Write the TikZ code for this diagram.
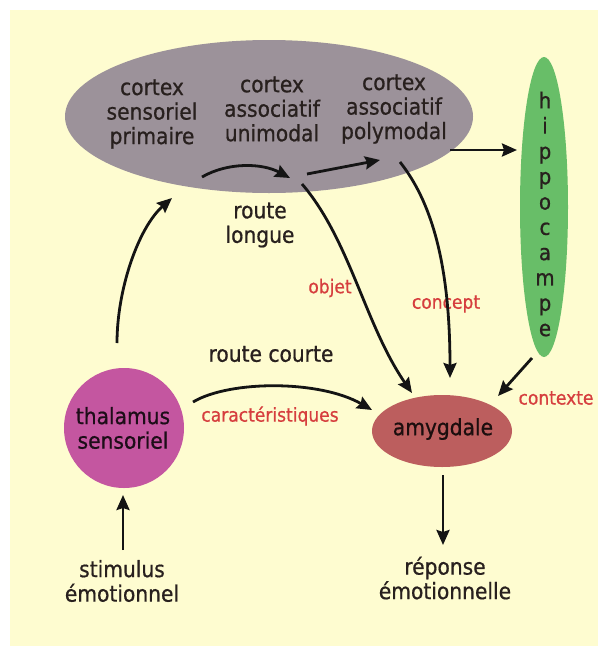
\documentclass[tikz,border=0pt]{standalone}
\usepackage{fontspec}
\setmainfont{DejaVu Sans Condensed}[FakeBold=0.7]
\usetikzlibrary{arrows.meta,shapes.geometric}
\definecolor{bgyellow}{RGB}{254,252,208}
\definecolor{cortexgray}{RGB}{156,146,154}
\definecolor{hipgreen}{RGB}{104,190,104}
\definecolor{thalpink}{RGB}{196,86,160}
\definecolor{amyred}{RGB}{188,94,94}
\definecolor{txtdark}{RGB}{40,32,30}
\definecolor{lblred}{RGB}{214,62,62}
\begin{document}
\begin{tikzpicture}[x=1pt,y=-1pt,
  lbl/.style={font=\fontsize{22.5}{24.5}\selectfont, text=txtdark, align=center, inner sep=0pt},
  redlbl/.style={font=\fontsize{19}{20}\selectfont, text=lblred, inner sep=0pt},
  arr/.style={line width=2.8pt, draw=black!92, -{Stealth[length=15pt,width=13pt,inset=2pt]}},
  blob/.style={inner sep=0pt, draw=none}
]
\useasboundingbox (0,0) rectangle (598,646);
\fill[white] (0,0) rectangle (598,646);
\fill[bgyellow] (10,10) rectangle (598,646);

% shapes
\node[blob, ellipse, fill=cortexgray, minimum width=408pt, minimum height=153pt] (cortex) at (269,116.5) {};
\node[blob, ellipse, fill=hipgreen, minimum width=48pt, minimum height=300pt] (hippo) at (544,207) {};
\node[blob, circle, fill=thalpink, minimum size=120pt] (thal) at (124,428) {};
\node[blob, ellipse, fill=amyred, minimum width=140pt, minimum height=72pt] (amyg) at (442,431) {};

% texts
\node[lbl] (csp) at (152,114) {cortex\\sensoriel\\primaire};
\node[lbl] (cau) at (272,109) {cortex\\associatif\\unimodal};
\node[lbl] (cap) at (394,109) {cortex\\associatif\\polymodal};
\node[lbl, font=\fontsize{22}{25.3}\selectfont] (hiptxt) at (545,214) {h\\i\\p\\p\\o\\c\\a\\m\\p\\e};
\node[lbl, text=black!85!thalpink] (thaltxt) at (123,428) {thalamus\\sensoriel};
\node[lbl, text=black!85!amyred] (amytxt) at (443,429) {amygdale};
\node[lbl] (stim) at (122,581) {stimulus\\émotionnel};
\node[lbl] (rep) at (445,578) {réponse\\émotionnelle};
\node[lbl] (rl) at (260,225) {route\\longue};
\node[lbl] (rc) at (271,354) {route courte};
\node[redlbl] (objet) at (330,288) {objet};
\node[redlbl] (concept) at (446,304) {concept};
\node[redlbl] (carac) at (270,416) {caractéristiques};
\node[redlbl] (contexte) at (556,398) {contexte};

% connector end points
\coordinate (ta) at (117,343);
\coordinate (tb) at (172,198);
\coordinate (r1a) at (202,177);
\coordinate (r1b) at (290,178);
\coordinate (r2a) at (307,174);
\coordinate (r2b) at (380,160);
\coordinate (ha) at (450,150);
\coordinate (hb) at (517,150);
\coordinate (oa) at (302,184);
\coordinate (ob) at (412,393);
\coordinate (ca) at (400,162);
\coordinate (cb) at (450,378);
\coordinate (sa) at (193,402);
\coordinate (sb) at (372,410);
\coordinate (xa) at (532,358);
\coordinate (xb) at (498,396);
\coordinate (ra) at (443,475);
\coordinate (rb) at (443,545);
\coordinate (ma) at (123,550);
\coordinate (mb) at (123,495);

% connectors
\draw[arr] (ta) .. controls (117,290) and (138,228) .. (tb);
\draw[arr] (r1a) .. controls (228,162) and (262,163) .. (r1b);
\draw[arr] (r2a) -- (r2b);
\draw[arr] (ha) -- (hb);
\draw[arr] (oa) .. controls (350,240) and (365,325) .. (ob);
\draw[arr] (ca) .. controls (430,200) and (450,260) .. (cb);
\draw[arr] (sa) .. controls (230,380) and (320,380) .. (sb);
\draw[arr] (xa) -- (xb);
\draw[arr] (ra) -- (rb);
\draw[arr] (ma) -- (mb);
\end{tikzpicture}
\end{document}
